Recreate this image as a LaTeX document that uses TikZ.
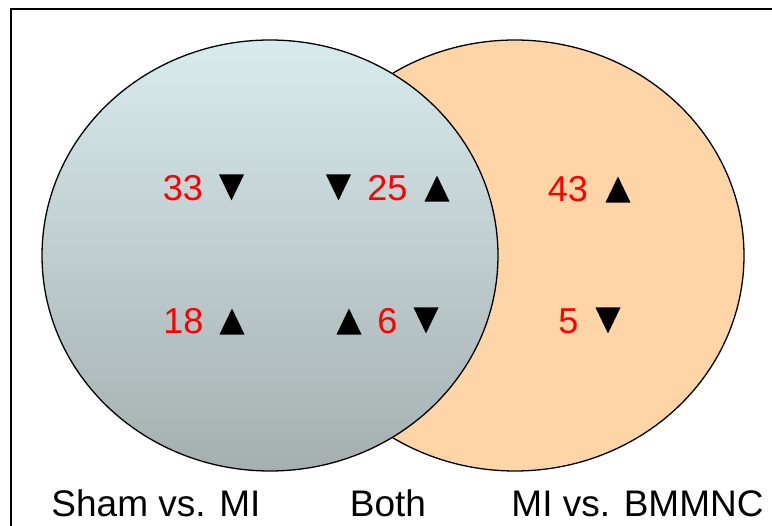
\documentclass[tikz,border=0pt]{standalone}
\usepackage{fontspec}
\setmainfont{Liberation Sans}
\usetikzlibrary{shapes.geometric}
\definecolor{shamtop}{HTML}{D7EBED}
\definecolor{shambot}{HTML}{A6AFB0}
\definecolor{bmfill}{HTML}{FFD5A8}
\tikzset{
	cnt/.style = {inner sep=0pt, red, font=\fontsize{36}{40}\selectfont},% nombre de genes
	grp/.style = {inner sep=0pt, anchor=base, font=\fontsize{37}{44}\selectfont},% nom du groupe
	tri/.style = {shape=isosceles triangle, isosceles triangle stretches,
		fill=black, inner sep=0pt, minimum width=25pt, minimum height=26pt, anchor=apex},
	up/.style = {tri, shape border rotate=90, yshift=13pt},% hausse
	dn/.style = {tri, shape border rotate=-90, yshift=-13pt}% baisse
}
\begin{document}
\begin{tikzpicture}[x=1pt,y=-1pt]
	\useasboundingbox (0,0) rectangle (772,526);
	\clip (0,0) rectangle (772,526);
	\draw[line width=2pt] (11,9) rectangle (800,560);
	% les deux ensembles
	\draw[line width=1.3pt, fill=bmfill] (515,255.5) ellipse [x radius=229, y radius=215.5];
	\draw[line width=1.3pt, top color=shamtop, bottom color=shambot]
		(270,255.5) ellipse [x radius=228, y radius=215.5];
	% Sham vs. MI seul
	\node[cnt] (s33) at (183,188) {33};
	\node[dn] (s33t) at (231.5,188) {};
	\node[cnt] (s18) at (183.5,321) {18};
	\node[up] (s18t) at (232,321) {};
	% les deux
	\node[dn] (b25a) at (338.5,188) {};
	\node[cnt] (b25) at (387.5,188) {25};
	\node[up] (b25b) at (437,188) {};
	\node[up] (b6a) at (349,321) {};
	\node[cnt] (b6) at (387.5,321) {6};
	\node[dn] (b6b) at (426,321) {};
	% MI vs. BMMNC seul
	\node[cnt] (m43) at (568,189) {43};
	\node[up] (m43t) at (618,189) {};
	\node[cnt] (m5) at (568.5,321) {5};
	\node[dn] (m5t) at (608,321) {};
	% legendes
	\node[grp] (sham) at (156,517) {Sham vs. MI};
	\node[grp] (both) at (388,517) {Both};
	\node[grp] (mibm) at (637.5,517) {MI vs. BMMNC};
\end{tikzpicture}
\end{document}
